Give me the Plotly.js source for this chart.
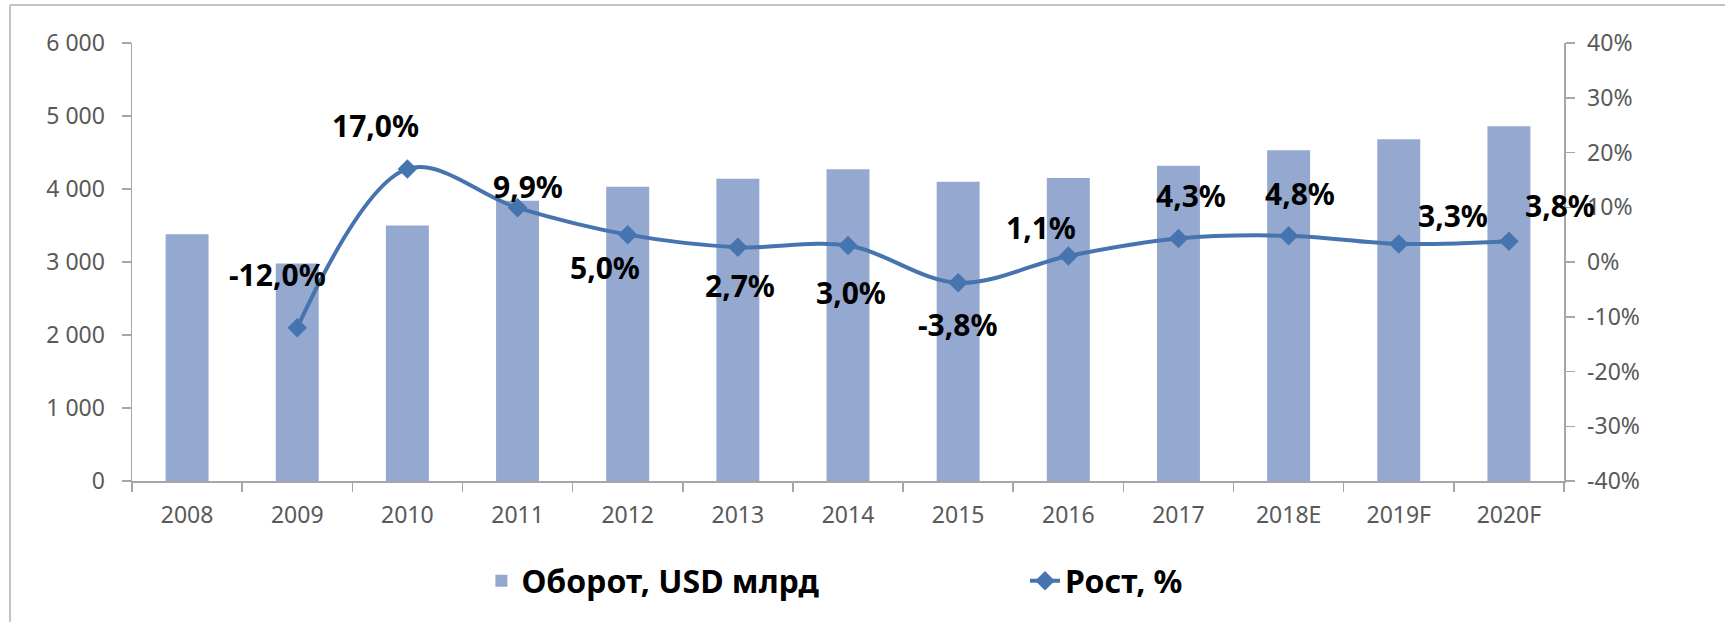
<!DOCTYPE html>
<html>
<head>
<meta charset="utf-8">
<script src="https://cdn.plot.ly/plotly-3.0.1.min.js"></script>
<style>
  html, body { margin: 0; padding: 0; background: #ffffff; }
  #chart { width: 1725px; height: 622px; }
</style>
</head>
<body>
<div id="chart"></div>
<script>
// ---- data ----
var years = ['2008', '2009', '2010', '2011', '2012', '2013', '2014', '2015', '2016', '2017', '2018E', '2019F', '2020F'];
var turnover = [3380, 2980, 3500, 3840, 4030, 4140, 4270, 4100, 4150, 4320, 4530, 4680, 4860];
var growth = [null, -12.0, 17.0, 9.9, 5.0, 2.7, 3.0, -3.8, 1.1, 4.3, 4.8, 3.3, 3.8];
var turnoverName = 'Оборот, USD млрд';
var growthName = 'Рост, %';
var leftTickVals = [0, 1000, 2000, 3000, 4000, 5000, 6000];
var leftTickText = ['0', '1 000', '2 000', '3 000', '4 000', '5 000', '6 000'];
var rightTickVals = [40, 30, 20, 10, 0, -10, -20, -30, -40];
var rightTickText = ['40%', '30%', '20%', '10%', '0%', '-10%', '-20%', '-30%', '-40%'];

// ---- label offsets (style, in px) ----
var labelDx = [0, -20, -32, 10, -23, 2, 3, 0, -27, 13, 11, 54, 51];
var labelDy = [0, 53, 43, 21, -33, -38, -47, -42, 28, 43, 42, 28, 36];

var FONT = 'Noto Sans, Open Sans, DejaVu Sans, sans-serif';
var barColor = '#95A8D0';
var lineColor = '#4674AF';
var axisColor = '#A6A6A6';
var tickFontColor = '#595959';

function fmtPct(v) {
  return v.toFixed(1).replace('.', ',') + '%';
}

var annotations = [];
for (var i = 0; i < years.length; i++) {
  if (growth[i] === null) continue;
  annotations.push({
    x: i, y: growth[i], xref: 'x', yref: 'y2',
    text: fmtPct(growth[i]), showarrow: false,
    xshift: labelDx[i], yshift: labelDy[i],
    xanchor: 'center', yanchor: 'middle',
    font: { family: FONT, size: 30, color: '#000000', weight: 'bold' }
  });
}

var traces = [
  {
    type: 'bar', name: turnoverName, x: years, y: turnover,
    marker: { color: barColor }, yaxis: 'y', showlegend: true,
    hoverinfo: 'x+y'
  },
  {
    type: 'scatter', mode: 'lines+markers', name: growthName, x: years, y: growth,
    yaxis: 'y2', legend: 'legend2', showlegend: true, connectgaps: false,
    line: { color: lineColor, width: 4, shape: 'spline', smoothing: 1 },
    marker: { symbol: 'diamond', size: 15, color: lineColor },
    hoverinfo: 'x+y'
  }
];

var layout = {
  width: 1725, height: 622,
  margin: { l: 132, r: 161, t: 43, b: 141 },
  paper_bgcolor: '#ffffff', plot_bgcolor: '#ffffff',
  showlegend: true,
  bargap: 0.61,
  font: { family: FONT, size: 23, color: tickFontColor },
  xaxis: {
    type: 'category', categoryorder: 'array', categoryarray: years,
    range: [-0.5, years.length - 0.5], autorange: false,
    showline: true, linecolor: axisColor, linewidth: 1.5,
    ticks: 'outside', tickson: 'boundaries', ticklen: 9, tickcolor: axisColor, tickwidth: 1.5,
    showgrid: false, zeroline: false, tickangle: 0, ticklabelstandoff: 13,
    tickfont: { family: FONT, size: 23, color: tickFontColor }
  },
  yaxis: {
    range: [0, 6000], autorange: false,
    tickmode: 'array', tickvals: leftTickVals, ticktext: leftTickText,
    showline: true, linecolor: axisColor, linewidth: 1.5,
    ticks: 'outside', ticklen: 9, tickcolor: axisColor, tickwidth: 1.5,
    showgrid: false, zeroline: false, ticklabelstandoff: 12,
    tickfont: { family: FONT, size: 23, color: tickFontColor }
  },
  yaxis2: {
    overlaying: 'y', side: 'right', range: [-40, 40], autorange: false,
    tickmode: 'array', tickvals: rightTickVals, ticktext: rightTickText,
    showline: true, linecolor: axisColor, linewidth: 1.5,
    ticks: 'outside', ticklen: 9, tickcolor: axisColor, tickwidth: 1.5,
    showgrid: false, zeroline: false, ticklabelstandoff: 8,
    tickfont: { family: FONT, size: 23, color: tickFontColor }
  },
  legend: {
    orientation: 'h', x: 0.244, xanchor: 'left', y: -0.2283, yanchor: 'middle',
    bgcolor: 'rgba(0,0,0,0)', borderwidth: 0,
    font: { family: FONT, size: 32, color: '#000000', weight: 'bold' }
  },
  legend2: {
    orientation: 'h', x: 0.6236, xanchor: 'left', y: -0.2283, yanchor: 'middle',
    bgcolor: 'rgba(0,0,0,0)', borderwidth: 0,
    font: { family: FONT, size: 32, color: '#000000', weight: 'bold' }
  },
  annotations: annotations,
  shapes: [
    { type: 'line', xref: 'paper', yref: 'paper', x0: -0.0852, x1: 1.1124, y0: 1.0868, y1: 1.0868,
      line: { color: '#C4C4C4', width: 2 } },
    { type: 'line', xref: 'paper', yref: 'paper', x0: -0.0852, x1: -0.0852, y0: 1.0868, y1: -0.3219,
      line: { color: '#C4C4C4', width: 2 } }
  ]
};

Plotly.newPlot('chart', traces, layout, { displayModeBar: false, staticPlot: true });
</script>
</body>
</html>
